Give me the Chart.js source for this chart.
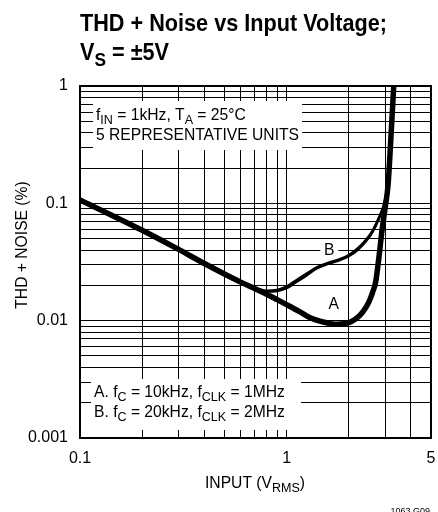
<!DOCTYPE html>
<html>
<head>
<meta charset="utf-8">
<script src="https://cdn.jsdelivr.net/npm/chart.js@4.4.1/dist/chart.umd.min.js"></script>
<style>
  html, body { margin: 0; padding: 0; background: #fff; }
  canvas { display: block; }
</style>
</head>
<body>
<canvas id="chart" width="438" height="512"></canvas>
<script>
// grid / tick values
const xGrid = [0.1, 0.2, 0.3, 0.4, 0.5, 0.6, 0.7, 0.8, 0.9, 1, 2, 3, 4, 5];
const xLabeled = [0.1, 1, 5];
const yGrid = [0.001, 0.002, 0.003, 0.004, 0.005, 0.006, 0.007, 0.008, 0.009,
               0.01, 0.02, 0.03, 0.04, 0.05, 0.06, 0.07, 0.08, 0.09,
               0.1, 0.2, 0.3, 0.4, 0.5, 0.6, 0.7, 0.8, 0.9, 1];
const yLabeled = [0.001, 0.01, 0.1, 1];

// curve A (fC = 10kHz), includes the shared low-input part
const curveAx = [0.1, 0.2, 0.3, 0.4, 0.5, 0.6, 0.7, 0.8, 0.9, 1.0, 1.15, 1.3, 1.45, 1.6, 1.75, 1.9,
                 2.05, 2.2, 2.35, 2.5, 2.6, 2.7, 2.8, 2.9, 3.0, 3.1, 3.2, 3.3];
const curveAy = [0.107, 0.059, 0.0405, 0.0307, 0.025, 0.0213, 0.0188, 0.0168, 0.0151, 0.0137, 0.012, 0.0106, 0.0099, 0.0095, 0.0093, 0.0094,
                 0.0098, 0.0106, 0.012, 0.0144, 0.0172, 0.0215, 0.035, 0.06, 0.092, 0.145, 0.37, 1.0];

// curve B (fC = 20kHz), two of the units
const curveBx = [0.6, 0.66, 0.73, 0.8, 0.9, 1.0, 1.1, 1.25, 1.4, 1.6, 1.8, 2.0, 2.2, 2.4, 2.6, 2.8, 2.97, 3.1];
const curveB1y = [0.0213, 0.0197, 0.0186, 0.018, 0.0183, 0.0195, 0.0218, 0.0252, 0.0285, 0.0312, 0.0333, 0.0362, 0.041, 0.048, 0.058, 0.076, 0.1, 0.145];
const curveB2y = [0.0213, 0.0195, 0.0183, 0.0177, 0.0179, 0.0189, 0.021, 0.0243, 0.0278, 0.0306, 0.0327, 0.0354, 0.0398, 0.0465, 0.0565, 0.074, 0.098, 0.145];

// where the curve letters sit (data units)
const labelA = { x: 1.69, y: 0.0141 };
const labelB = { x: 1.61, y: 0.0408 };

const FONT = '"Liberation Sans", Arial, sans-serif';

function toPoints(xs, ys) {
    return xs.map((x, i) => ({ x: x, y: ys[i] }));
}

function fontFor(size, sub, bold) {
    return (bold ? 'bold ' : '') + (sub ? size * 0.8 : size) + 'px ' + FONT;
}

function richWidth(ctx, parts, size, bold) {
    let w = 0;
    for (const [t, sub] of parts) {
        ctx.font = fontFor(size, sub, bold);
        w += ctx.measureText(t).width;
    }
    return w;
}

// draws text made of [text, isSubscript] parts
function drawRich(ctx, parts, x, y, size, opts) {
    opts = opts || {};
    const sx = opts.sx || 1;
    ctx.save();
    ctx.translate(x, y);
    if (opts.rotate) ctx.rotate(opts.rotate);
    ctx.scale(sx, 1);
    let cx = 0;
    if (opts.align === 'center') cx = -richWidth(ctx, parts, size, opts.bold) / 2;
    if (opts.align === 'right') cx = -richWidth(ctx, parts, size, opts.bold);
    ctx.fillStyle = '#000';
    ctx.textAlign = 'left';
    ctx.textBaseline = 'alphabetic';
    for (const [t, sub] of parts) {
        ctx.font = fontFor(size, sub, opts.bold);
        ctx.fillText(t, cx, sub ? size * 0.25 : 0);
        cx += ctx.measureText(t).width;
    }
    ctx.restore();
}

const textPlugin = {
    id: 'textPlugin',
    beforeDatasetsDraw(chart) {
        const ctx = chart.ctx;
        const size = 16.5;
        const sx = 203 / richWidth(ctx, [['5 REPRESENTATIVE UNITS', false]], size, false);

        ctx.save();
        ctx.fillStyle = '#fff';
        ctx.fillRect(93, 101, 209, 49);
        ctx.fillRect(91, 379, 210, 51);
        const xs = chart.scales.x, ys = chart.scales.y;
        const ax = xs.getPixelForValue(labelA.x), ay = ys.getPixelForValue(labelA.y);
        const bx = xs.getPixelForValue(labelB.x), by = ys.getPixelForValue(labelB.y);
        ctx.fillRect(bx - 9, by - 9, 18, 18);
        ctx.fillRect(ax - 9, ay - 9, 18, 18);
        ctx.restore();

        drawRich(ctx, [['f', false], ['IN', true], [' = 1kHz, T', false], ['A', true], [' = 25°C', false]], 96, 119.5, size, { sx: sx });
        drawRich(ctx, [['5 REPRESENTATIVE UNITS', false]], 96, 140, size, { sx: sx });
        drawRich(ctx, [['A. f', false], ['C', true], [' = 10kHz, f', false], ['CLK', true], [' = 1MHz', false]], 94, 397, size, { sx: sx });
        drawRich(ctx, [['B. f', false], ['C', true], [' = 20kHz, f', false], ['CLK', true], [' = 2MHz', false]], 94, 417, size, { sx: sx });
        drawRich(ctx, [['A', false]], ax, ay + 6, size, { sx: sx, align: 'center' });
        drawRich(ctx, [['B', false]], bx, by + 6, size, { sx: sx, align: 'center' });
    },
    afterDraw(chart) {
        const ctx = chart.ctx;
        const a = chart.chartArea;
        ctx.save();
        ctx.strokeStyle = '#000';
        ctx.lineWidth = 2;
        ctx.strokeRect(a.left, a.top, a.right - a.left, a.bottom - a.top);
        ctx.restore();

        const size = 16.5;
        const sx = 203 / richWidth(ctx, [['5 REPRESENTATIVE UNITS', false]], size, false);

        // title
        const tsize = 23;
        const tsx = 307 / richWidth(ctx, [['THD + Noise vs Input Voltage;', false]], tsize, true);
        drawRich(ctx, [['THD + Noise vs Input Voltage;', false]], 80, 31, tsize, { sx: tsx, bold: true });
        drawRich(ctx, [['V', false], ['S', true], [' = ±5V', false]], 80, 60, tsize, { sx: tsx, bold: true });

        // axis titles
        drawRich(ctx, [['INPUT (V', false], ['RMS', true], [')', false]], 255, 488, size, { sx: sx, align: 'center' });
        drawRich(ctx, [['THD + NOISE (%)', false]], 27, 245, size, { sx: sx, align: 'center', rotate: -Math.PI / 2 });

        // figure code
        ctx.save();
        ctx.font = '9px ' + FONT;
        ctx.fillStyle = '#000';
        ctx.textAlign = 'right';
        ctx.fillText('1063 G09', 430, 514);
        ctx.restore();
    }
};

const lineStyle = {
    borderColor: '#000',
    pointRadius: 0,
    fill: false,
    cubicInterpolationMode: 'monotone'
};

function noPadding(scale) {
    scale.paddingLeft = 0;
    scale.paddingRight = 0;
    scale.paddingTop = 0;
    scale.paddingBottom = 0;
}

new Chart(document.getElementById('chart'), {
    type: 'line',
    data: {
        datasets: [
            Object.assign({ label: 'A', data: toPoints(curveAx, curveAy), borderWidth: 5.5 }, lineStyle),
            Object.assign({ label: 'B1', data: toPoints(curveBx, curveB1y), borderWidth: 2.4 }, lineStyle),
            Object.assign({ label: 'B2', data: toPoints(curveBx, curveB2y), borderWidth: 2.4 }, lineStyle)
        ]
    },
    options: {
        responsive: false,
        animation: false,
        devicePixelRatio: 1,
        layout: { padding: { top: 86, right: 7, left: 0, bottom: 0 } },
        plugins: { legend: { display: false }, tooltip: { enabled: false }, title: { display: false } },
        scales: {
            x: {
                type: 'logarithmic',
                min: 0.1,
                max: 5,
                afterBuildTicks: (scale) => { scale.ticks = xGrid.map(v => ({ value: v })); },
                afterFit: (scale) => { scale.height = 74; noPadding(scale); },
                border: { display: false },
                grid: { color: '#000', lineWidth: 1, drawTicks: false },
                ticks: {
                    autoSkip: false,
                    maxRotation: 0,
                    padding: 11,
                    color: '#000',
                    font: { family: FONT, size: 16 },
                    callback: (v) => xLabeled.includes(v) ? String(v) : ''
                }
            },
            y: {
                type: 'logarithmic',
                min: 0.001,
                max: 1,
                afterBuildTicks: (scale) => { scale.ticks = yGrid.map(v => ({ value: v })); },
                afterFit: (scale) => { scale.width = 80; noPadding(scale); },
                border: { display: false },
                grid: { color: '#000', lineWidth: 1, drawTicks: false },
                ticks: {
                    autoSkip: false,
                    padding: 12,
                    color: '#000',
                    font: { family: FONT, size: 16 },
                    callback: (v) => yLabeled.includes(v) ? String(v) : ''
                }
            }
        }
    },
    plugins: [textPlugin]
});
</script>
</body>
</html>
